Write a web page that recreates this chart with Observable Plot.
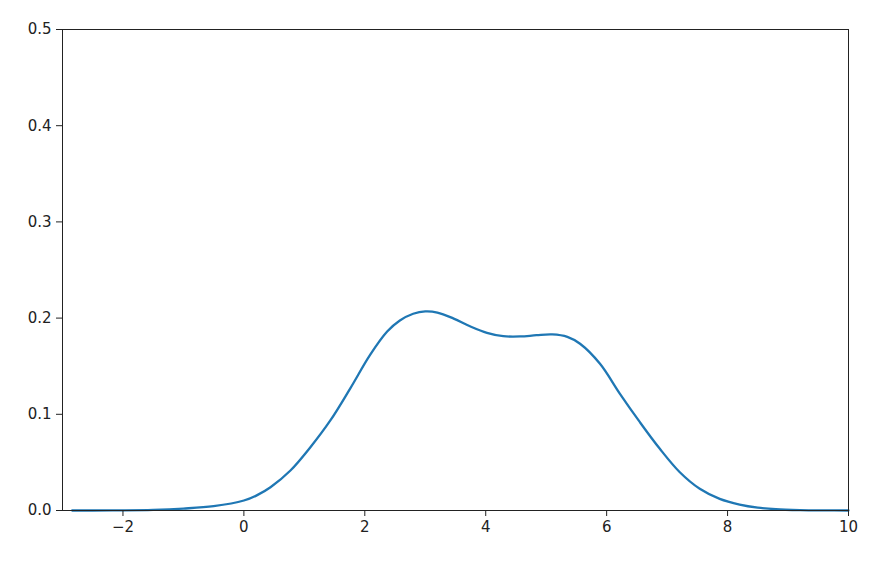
<!DOCTYPE html>
<html>
<head>
<meta charset="utf-8">
<script src="https://cdn.jsdelivr.net/npm/d3@7"></script>
<script src="https://cdn.jsdelivr.net/npm/@observablehq/plot@0.6"></script>
<style>
  html, body { margin: 0; padding: 0; background: #fff; }
  #chart svg { display: block; }
</style>
</head>
<body>
<div id="chart"></div>
<script>
const xValues = [-2.84, -2.5, -2, -1.5, -1, -0.5, 0, 0.22, 0.44, 0.77, 1.1, 1.43, 1.76, 2.09, 2.37, 2.58, 2.8, 3.0, 3.2, 3.47, 3.74, 4.02, 4.29, 4.57, 4.84, 5.1, 5.35, 5.56, 5.89, 6.22, 6.55, 6.88, 7.21, 7.54, 7.87, 8.2, 8.5, 8.8, 9.2, 9.6, 10];
const densityValues = [0, 0, 0.0001, 0.0006, 0.002, 0.0045, 0.0104, 0.016, 0.0242, 0.0416, 0.0658, 0.0936, 0.127, 0.162, 0.186, 0.1975, 0.2045, 0.207, 0.2058, 0.1995, 0.1915, 0.1847, 0.1812, 0.1809, 0.1822, 0.183, 0.1805, 0.1733, 0.1525, 0.1213, 0.0918, 0.0641, 0.0398, 0.0226, 0.0121, 0.0062, 0.003, 0.0013, 0.0004, 0.0001, 0];
const xTicks = [-2, 0, 2, 4, 6, 8, 10];
const yTicks = [0, 0.1, 0.2, 0.3, 0.4, 0.5];

const data = xValues.map((x, i) => ({x, y: densityValues[i]}));

const chart = Plot.plot({
  width: 877,
  height: 570,
  marginLeft: 62,
  marginRight: 29,
  marginTop: 29,
  marginBottom: 60,
  style: {fontFamily: "DejaVu Sans", fontSize: "15px", color: "#222", background: "#fff"},
  x: {domain: [-3, 10]},
  y: {domain: [0, 0.5]},
  marks: [
    Plot.line(data, {x: "x", y: "y", stroke: "#1f77b4", strokeWidth: 2.3, curve: "catmull-rom"}),
    Plot.frame({stroke: "#222", strokeWidth: 1}),
    Plot.axisX({ticks: xTicks, tickSize: 6, tickPadding: 5, label: null, tickFormat: d => (d < 0 ? "\u2212" + Math.abs(d) : String(d)), stroke: "#222"}),
    Plot.axisY({ticks: yTicks, tickSize: 6, tickPadding: 5, label: null, tickFormat: d3.format(".1f"), stroke: "#222"})
  ]
});
document.getElementById("chart").appendChild(chart);
</script>
</body>
</html>
